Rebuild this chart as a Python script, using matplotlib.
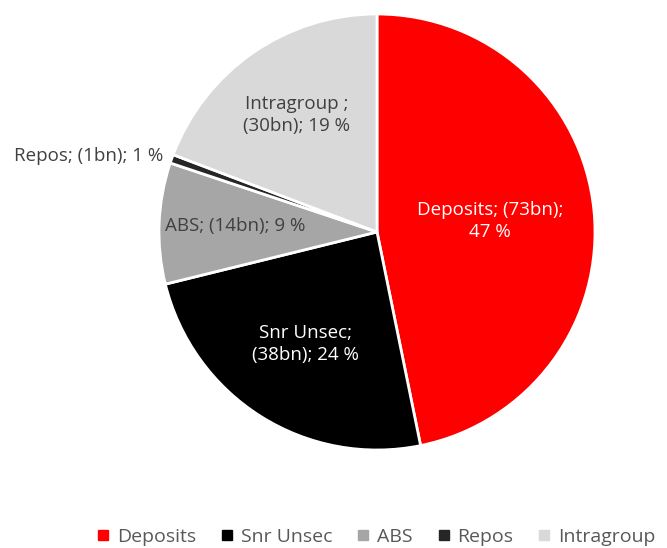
import matplotlib.pyplot as plt
import numpy as np
from matplotlib.lines import Line2D

plt.rcParams["font.family"] = ["Open Sans", "DejaVu Sans"]

categorias = ["Deposits", "Snr Unsec", "ABS", "Repos", "Intragroup"]
valores = [73, 38, 14, 1, 30]
rotulos = [
    "Deposits; (73bn);\n47 %",
    "Snr Unsec;\n(38bn); 24 %",
    "ABS; (14bn); 9 %",
    "Repos; (1bn); 1 %",
    "Intragroup ;\n(30bn); 19 %",
]
cores = ["#FF0000", "#000000", "#A6A6A6", "#262626", "#D9D9D9"]
cores_texto = ["white", "white", "#404040", "#404040", "#404040"]
raios_texto = [0.52, 0.61, 0.65, 1.04, 0.65]

fig = plt.figure(figsize=(6.67, 5.48), dpi=100)

cx, cy, r = 377, 232, 218
ax = fig.add_axes([(cx - r) / 667, (548 - cy - r) / 548, 2 * r / 667, 2 * r / 548])

wedges, _ = ax.pie(
    valores,
    colors=cores,
    startangle=90,
    counterclock=False,
    wedgeprops=dict(edgecolor="white", linewidth=2),
)
ax.set_xlim(-1, 1)
ax.set_ylim(-1, 1)

for w, rot, cor, rr in zip(wedges, rotulos, cores_texto, raios_texto):
    ang = np.deg2rad((w.theta1 + w.theta2) / 2)
    x, y = rr * np.cos(ang), rr * np.sin(ang)
    ha = "right" if rr > 1 else "center"
    ax.text(x, y, rot, ha=ha, va="center", color=cor, fontsize=13.5,
            linespacing=1.3)

handles = [
    Line2D([], [], marker="s", linestyle="none", markersize=6.5,
           markerfacecolor=c, markeredgecolor=c)
    for c in cores
]
fig.legend(
    handles,
    categorias,
    loc="lower right",
    bbox_to_anchor=(1.0, -0.018),
    ncol=5,
    frameon=False,
    fontsize=14,
    handlelength=0.8,
    handletextpad=0.3,
    columnspacing=1.2,
    labelcolor="#595959",
    borderaxespad=0.2,
)

fig.savefig("out.png", dpi=100)
